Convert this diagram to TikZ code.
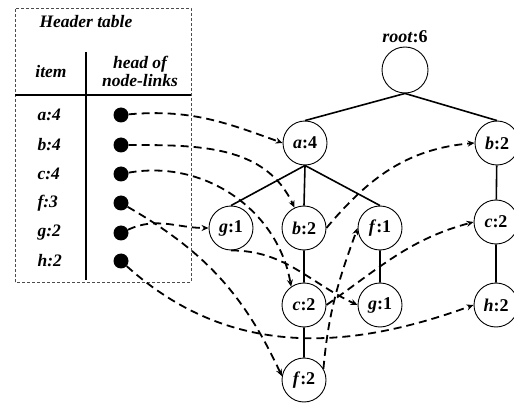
\documentclass[tikz,border=0pt]{standalone}
\usepackage{fontspec}
\setmainfont{Liberation Serif}
\usetikzlibrary{
    arrows.meta,
    positioning
}

\newcommand{\itm}[2]{\textit{#1}:#2}

\tikzset{
    tnode/.style={shape=circle,draw,line width=0.9pt,minimum size=44pt,inner sep=0pt,
                  font=\fontsize{18}{18}\selectfont\bfseries},
    hdot/.style={shape=circle,fill,inner sep=0pt,minimum size=15pt},
    row/.style={anchor=west,font=\fontsize{17.5}{18}\selectfont\bfseries\itshape},
    link/.style={line width=1.8pt,dash pattern=on 8pt off 5pt,-{Stealth[length=7pt,width=6pt]}},
    tedge/.style={line width=1.6pt}
}

\begin{document}
\begin{tikzpicture}[x=1pt,y=1pt]
    \useasboundingbox (0,0) rectangle (514,402);
    % header table
    \draw[line width=0.8pt,dash pattern=on 3pt off 2pt,gray!60!black] (15,120) rectangle (191,394);
    \draw[line width=1.6pt] (15,307) -- (191,307) (86,350) -- (86,122);
    \path (36,380) node [row] (title) {Header table}
          (51,330) node [row,anchor=center] (item) {item}
          (140,331) node [row,anchor=center,align=center] (head) {head of\\node-links};
    \path (34,287) node [row] (ra) {a:4}
          (34,257) node [row] (rb) {b:4}
          (34,228) node [row] (rc) {c:4}
          (34,199) node [row] (rf) {f:3}
          (34,169) node [row] (rg) {g:2}
          (34,141) node [row] (rh) {h:2};
    \path (121,287) node [hdot] (da) {}
          (121,257) node [hdot] (db) {}
          (121,228) node [hdot] (dc) {}
          (121,199) node [hdot] (df) {}
          (121,169) node [hdot] (dg) {}
          (121,141) node [hdot] (dh) {};
    % FP-tree
    \path (405,332) node [tnode,minimum size=46pt] (root) {}
          (405,365) node [font=\fontsize{18}{18}\selectfont\bfseries] (rootlbl) {\itm{root}{6}}
          (305,259) node [tnode] (a4) {\itm{a}{4}}
          (497,259) node [tnode] (b2r) {\itm{b}{2}}
          (231,174) node [tnode] (g1) {\itm{g}{1}}
          (304,174) node [tnode] (b2m) {\itm{b}{2}}
          (380,174) node [tnode] (f1) {\itm{f}{1}}
          (496,180) node [tnode] (c2r) {\itm{c}{2}}
          (304,97) node [tnode] (cm) {\itm{c}{2}}
          (380,97) node [tnode] (gl) {\itm{g}{1}}
          (496,97) node [tnode] (h2) {\itm{h}{2}}
          (304,22) node [tnode] (f2) {\itm{f}{2}};
    \draw[tedge] (root.south) -- (a4.north) (root.south) -- (b2r.north)
                 (a4.south) -- (g1.north) (a4.south) -- (b2m.north) (a4.south) -- (f1.north)
                 (b2m) -- (cm) (cm) -- (f2) (f1) -- (gl) (b2r) -- (c2r) (c2r) -- (h2);
    % node-links
    \draw[link] (da) to[out=5,in=160] (a4.west);
    \draw[link] (db) to[out=0,in=115] (b2m.115);
    \draw[link] (dc) to[out=10,in=100] (cm.125);
    \draw[link] (df) to[out=-30,in=115] (f2.170);
    \draw[link] (dg) to[out=25,in=180] (g1.west);
    \draw[link] (dh) to[out=-42,in=200] (h2.west);
    \draw[link] (g1.south) to[out=0,in=155] (gl.west);
    \draw[link] (b2m.east) to[out=50,in=185] (b2r.west);
    \draw[link] (cm.east) to[out=35,in=195] (c2r.west);
    \draw[link] (f2.30) to[out=85,in=250] (f1.west);
\end{tikzpicture}
\end{document}
